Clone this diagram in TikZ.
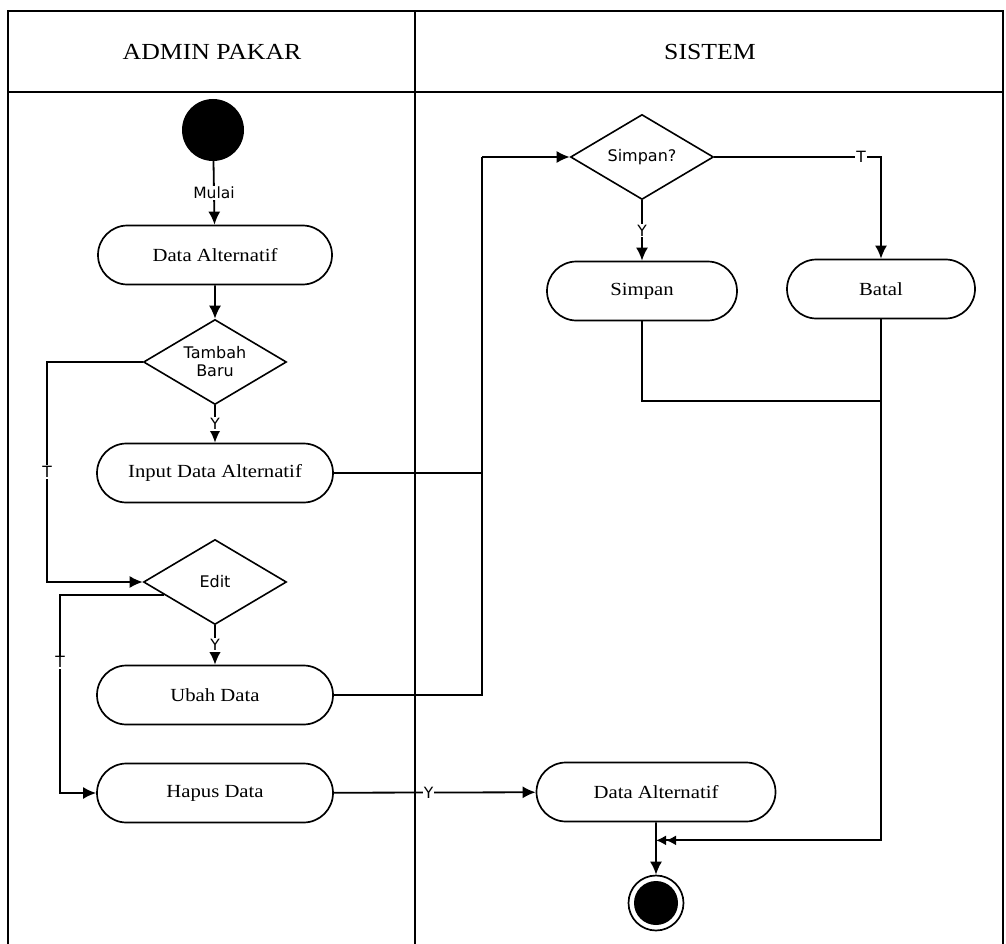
\documentclass[tikz,border=0pt]{standalone}
\usepackage{fontspec}
\setmainfont{Liberation Serif}
\newfontfamily\nodefont[FakeStretch=1.12]{Liberation Serif}
\newfontfamily\labfont{DejaVu Sans}
\usetikzlibrary{shapes.geometric,shapes.misc,arrows.meta,calc}
\begin{document}
\begin{tikzpicture}[x=1pt,y=-1pt,
  act/.style={rounded rectangle, draw, line width=1.7pt, minimum height=59pt, font=\nodefont\fontsize{18.5}{22}\selectfont, inner sep=0pt},
  dec/.style={diamond, draw, line width=1.6pt, minimum width=143pt, minimum height=85pt, inner sep=0pt, aspect=2.5, font=\labfont\fontsize{16}{18}\selectfont, align=center},
  flow/.style={line width=1.8pt, -{Latex[length=13pt,width=12pt]}},
  plain/.style={line width=1.8pt},
  lab/.style={fill=white, inner sep=1pt, font=\labfont\fontsize{15.5}{18}\selectfont},
  head/.style={font=\nodefont\fontsize{23}{27}\selectfont},
  frame/.style={line width=2pt}
]
\clip (0,0) rectangle (1006,944);
\fill[white] (0,0) rectangle (1006,944);
% swimlane frame
\draw[frame] (8,960) -- (8,11) -- (1003,11) -- (1003,960);
\draw[frame] (8,92) -- (1003,92);
\draw[frame] (415,11) -- (415,960);
\node[head] (h1) at (212,52) {ADMIN PAKAR};
\node[head] (h2) at (710,52) {SISTEM};
% admin lane
\node[circle, fill=black, minimum size=62pt, inner sep=0pt] (start) at (213,130) {};
\node[act, minimum width=234pt] (da1) at (215,255) {Data Alternatif};
\node[dec] (tb) at (215,362) {Tambah\\Baru};
\node[act, minimum width=236pt] (inp) at (215,473) {Input Data Alternatif};
\node[dec] (edit) at (215,582) {Edit};
\node[act, minimum width=236pt] (ubah) at (215,695) {Ubah Data};
\node[act, minimum width=236pt] (hap) at (215,793) {Hapus Data};
% system lane
\node[dec] (sq) at (642,157) {Simpan?};
\node[act, minimum width=190pt] (simpan) at (642,291) {Simpan};
\node[act, minimum width=188pt] (batal) at (881,289) {Batal};
\node[act, minimum width=239pt] (dasys) at (656,792) {Data Alternatif};
\node[circle, draw, line width=1.7pt, minimum size=55pt, inner sep=0pt] (endc) at (656,903) {};
\node[circle, fill=black, minimum size=44pt, inner sep=0pt] (endin) at (656,903) {};
% connectors
\draw[flow] (start) -- node[lab]{Mulai} (da1);
\draw[flow] (da1) -- (tb);
\draw[flow] (tb) -- node[lab]{Y} (inp);
\coordinate (t1) at (47,362);
\draw[flow] (tb.west) -- (t1) -- node[lab]{T} (t1 |- edit.west) -- (edit.west);
\draw[flow] (edit) -- node[lab]{Y} (ubah);
\coordinate (e1) at ($(edit.west)!0.3!(edit.south)$);
\coordinate (tx) at (60,0);
\draw[flow] (e1) -- (e1 -| tx) -- node[lab,pos=0.34]{T} (tx |- hap.west) -- (hap.west);
\coordinate (j) at (482,157);
\draw[plain] (inp.east) -| (j);
\draw[plain] (ubah.east) -| (j);
\draw[flow] (j) -- (sq.west);
\draw[flow] (sq) -- node[lab]{Y} (simpan);
\draw[flow] (sq.east) -- node[lab,pos=0.88]{T} (batal.north |- sq.east) -- (batal.north);
\draw[plain] (simpan.south) -- ++(0,80) -| (batal.south);
\coordinate (mg) at ($(dasys.south)+(0,18)$);
\draw[line width=1.8pt, -{Latex[length=10pt,width=10pt]Latex[length=10pt,width=10pt]}] (batal.south) |- (mg);
\draw[flow] (hap) -- node[lab,pos=0.47]{Y} (dasys);
\draw[flow] (dasys) -- (endc);
\end{tikzpicture}
\end{document}
